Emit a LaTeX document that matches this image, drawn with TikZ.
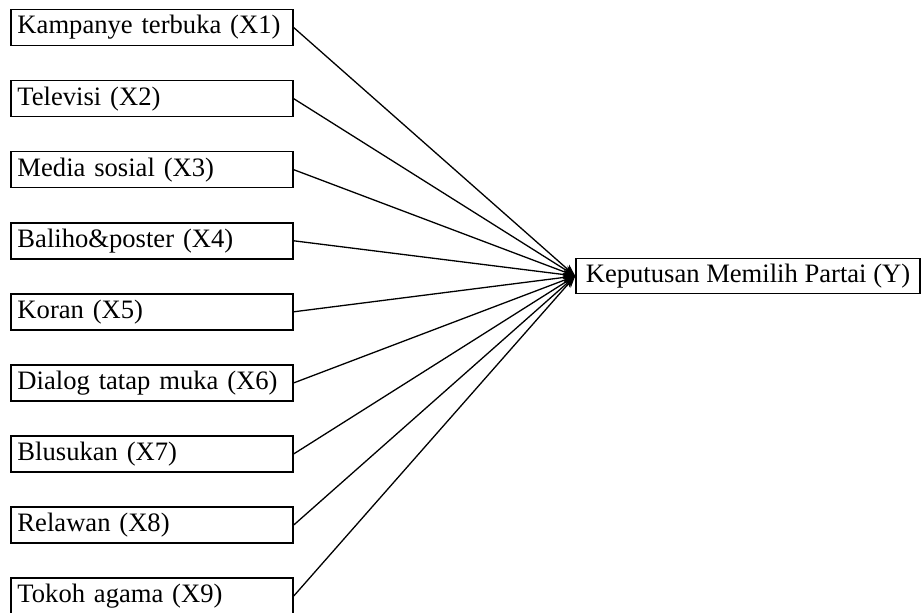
\documentclass[tikz,border=0pt]{standalone}
\usepackage{fontspec}
\setmainfont{Liberation Serif}
\usetikzlibrary{arrows.meta}

\begin{document}
\begin{tikzpicture}[x=0.5pt,y=-0.5pt]
\useasboundingbox (0,0) rectangle (921,613);
\begin{scope}[every node/.style={rectangle,draw=black,line width=0.75pt,inner sep=0pt,font=\fontsize{13.3}{16}\selectfont,minimum height=18pt}]
    \begin{scope}[every node/.append style={minimum width=141pt,text width=134.5pt,align=left}]
        \node (X1) at (152,27.6) {Kampanye terbuka (X1)};
        \node (X2) at (152,98.7) {Televisi (X2)};
        \node (X3) at (152,169.7) {Media sosial (X3)};
        \node (X4) at (152,240.8) {Baliho\&poster (X4)};
        \node (X5) at (152,311.8) {Koran (X5)};
        \node (X6) at (152,382.9) {Dialog tatap muka (X6)};
        \node (X7) at (152,453.9) {Blusukan (X7)};
        \node (X8) at (152,525.0) {Relawan (X8)};
        \node (X9) at (152,596.0) {Tokoh agama (X9)};
    \end{scope}
    \node[minimum width=172pt,minimum height=17.5pt] (Y) at (748,276) {Keputusan Memilih Partai (Y)};
\end{scope}
\begin{scope}[every edge/.style={draw=black,line width=0.65pt,-{Stealth[length=6pt,width=4.5pt]}}]
    \draw (X1.east) edge (Y.west);
    \draw (X2.east) edge (Y.west);
    \draw (X3.east) edge (Y.west);
    \draw (X4.east) edge (Y.west);
    \draw (X5.east) edge (Y.west);
    \draw (X6.east) edge (Y.west);
    \draw (X7.east) edge (Y.west);
    \draw (X8.east) edge (Y.west);
    \draw (X9.east) edge (Y.west);
\end{scope}
\end{tikzpicture}
\end{document}
